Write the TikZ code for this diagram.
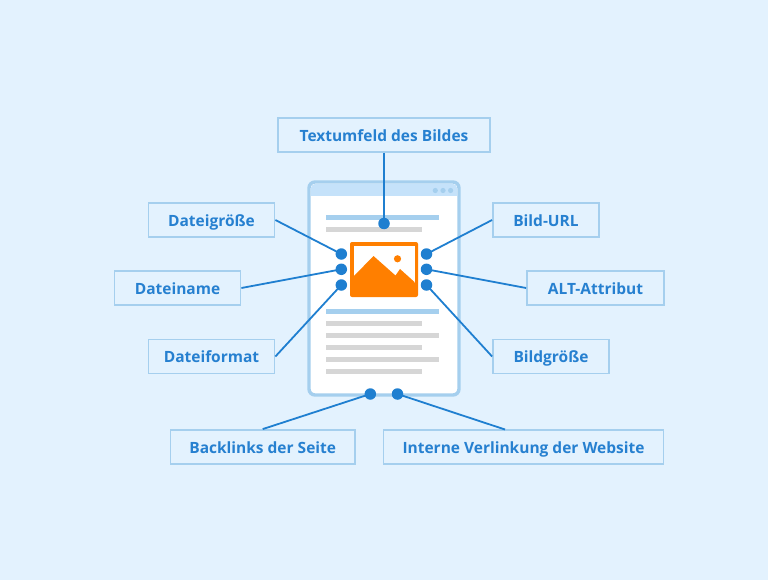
\documentclass[tikz,border=0pt]{standalone}
\usepackage{fontspec}
\setmainfont{Open Sans}
\definecolor{bgc}{HTML}{E3F2FE}
\definecolor{edgec}{HTML}{A5CFEE}
\definecolor{headc}{HTML}{C5E2FA}
\definecolor{bluec}{HTML}{1F7FD0}
\definecolor{textc}{HTML}{2680D0}
\definecolor{greyc}{HTML}{D6D6D6}
\definecolor{orangec}{HTML}{FF7F00}
\definecolor{dotc}{HTML}{A5CFEE}
\tikzset{
  label box/.style={draw=edgec,line width=1.8pt,fill=bgc,text=textc,font=\fontsize{15.5}{18}\selectfont\bfseries,minimum height=34pt,inner sep=0pt,text height=12.4pt,text depth=0pt,anchor=center},
  pin/.style={circle,fill=bluec,minimum size=11.5pt,inner sep=0pt},
  link/.style={draw=bluec,line width=1.8pt},
  bar blue/.style={fill=edgec},
  bar grey/.style={fill=greyc},
  x=1pt,y=-1pt
}
\begin{document}
\begin{tikzpicture}
\useasboundingbox[fill=bgc] (0,0) rectangle (768,580);
% page
\draw[draw=edgec,line width=3.4pt,fill=white,rounded corners=6pt] (309,182) rectangle (459,395);
\fill[headc,rounded corners=5pt] (310.7,183.7) rectangle (457.3,196);
\fill[headc] (310.7,190) rectangle (457.3,196);
\foreach \px in {435.3,443,450.6} \fill[dotc] (\px,190.5) circle (2.6);
% text bars
\fill[bar blue] (326,215) rectangle (438.5,220);
\fill[bar grey] (326,227) rectangle (421.5,232);
\fill[bar blue] (326,309) rectangle (438.5,314);
\foreach \by/\bx in {321/421.5,333/438.5,345/421.5,357/438.5,369/421.5}
  \fill[bar grey] (326,\by) rectangle (\bx,\by+5);
% image icon
\fill[orangec,rounded corners=2pt] (350,242) rectangle (418,297);
\fill[white] (353.5,245.5) rectangle (414.5,283);
\fill[orangec] (353.5,276.5) -- (373.5,256) -- (395.5,275.5) -- (400,269) -- (414.5,282) -- (414.5,293.5) -- (353.5,293.5) -- cycle;
\fill[orangec] (397.5,258.8) circle (3.6);
% labels
\node[label box,minimum width=212pt] (tf) at (384,135) {Textumfeld des Bildes};
\node[label box,minimum width=126pt] (dg) at (211.5,220) {Dateigröße};
\node[label box,minimum width=126pt] (dn) at (177.5,288) {Dateiname};
\node[label box,minimum width=126pt] (df) at (211.5,356.5) {Dateiformat};
\node[label box,minimum width=106pt] (bu) at (546,220) {Bild-URL};
\node[label box,minimum width=137pt] (al) at (595.5,288) {ALT-Attribut};
\node[label box,minimum width=116pt] (bg) at (551,356.5) {Bildgröße};
\node[label box,minimum width=184.5pt] (bl) at (262.7,447) {Backlinks der Seite};
\node[label box,minimum width=280pt] (iv) at (523.5,447) {Interne Verlinkung der Website};
% pins
\node[pin] (p0) at (384,223.5) {};
\node[pin] (p1) at (341.3,254) {};
\node[pin] (p2) at (341.3,269.3) {};
\node[pin] (p3) at (341.3,285) {};
\node[pin] (p4) at (426.5,254) {};
\node[pin] (p5) at (426.5,269.3) {};
\node[pin] (p6) at (426.5,285) {};
\node[pin] (p7) at (370.3,394) {};
\node[pin] (p8) at (397.5,394) {};
\coordinate (ivtop) at (505,429.5);
% connectors
\draw[link] (tf.south) -- (p0.center);
\draw[link] (dg.east) -- (p1.center);
\draw[link] (dn.east) -- (p2.center);
\draw[link] (df.east) -- (p3.center);
\draw[link] (bu.west) -- (p4.center);
\draw[link] (al.west) -- (p5.center);
\draw[link] (bg.west) -- (p6.center);
\draw[link] (bl.north) -- (p7.center);
\draw[link] (ivtop) -- (p8.center);
\end{tikzpicture}
\end{document}
